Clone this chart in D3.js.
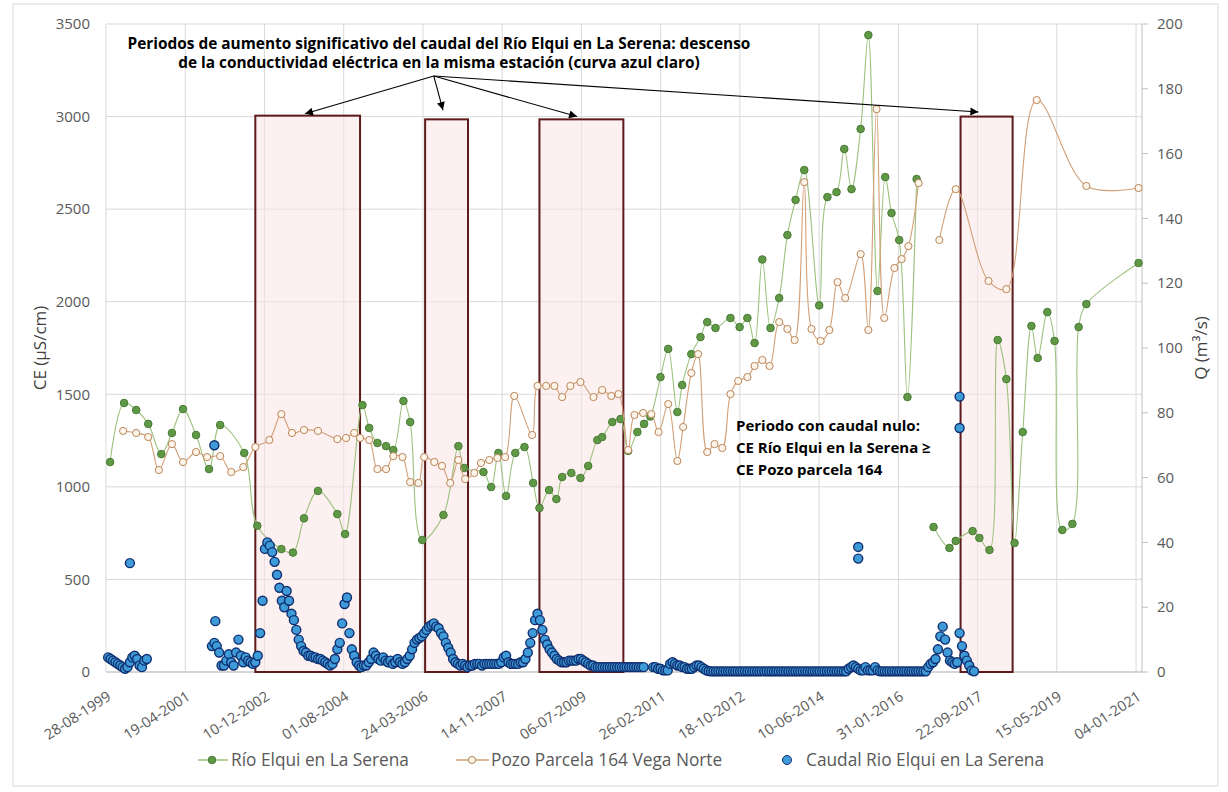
<!DOCTYPE html>
<html>
<head>
<meta charset="utf-8">
<script src="https://cdn.jsdelivr.net/npm/d3@7"></script>
<style>
body { margin: 0; background: #fff; }
svg { font-family: "Open Sans", sans-serif; }
</style>
</head>
<body>
<svg id="chart" width="1228" height="792"></svg>
<script>
// x axis: Excel date axis, one tick every 600 days
const xTickStart = '1999-08-28'
const xTickCount = 14
const xTickStepDays = 600
const xEnd = '2021-02-18'

const ceTicks = [0, 500, 1000, 1500, 2000, 2500, 3000, 3500]
const qTicks = [0, 20, 40, 60, 80, 100, 120, 140, 160, 180, 200]

// Río Elqui en La Serena, CE (µS/cm), dates as decimal years
const rioYears = [1999.74, 2000.03, 2000.28, 2000.53, 2000.80, 2001.02, 2001.25, 2001.52, 2001.79, 2002.02,
    2002.52, 2002.79, 2003.29, 2003.53, 2003.76, 2004.05, 2004.45, 2004.61, 2004.97, 2005.11,
    2005.28, 2005.46, 2005.61, 2005.82, 2005.96, 2006.21, 2006.65, 2006.96, 2007.08, 2007.48,
    2007.64, 2007.79, 2007.95, 2008.14, 2008.33, 2008.51, 2008.64, 2008.84, 2008.99, 2009.11,
    2009.30, 2009.49, 2009.65, 2009.84, 2009.94, 2010.15, 2010.32, 2010.48, 2010.67, 2010.81,
    2010.94, 2011.15, 2011.31, 2011.50, 2011.60, 2011.79, 2011.98, 2012.12, 2012.29, 2012.60,
    2012.79, 2012.95, 2013.10, 2013.26, 2013.43, 2013.61, 2013.78, 2013.95, 2014.13, 2014.44,
    2014.61, 2014.80, 2014.96, 2015.11, 2015.30, 2015.46, 2015.65, 2015.81, 2015.94, 2016.10,
    2016.27, 2016.46, 2016.64, 2016.81, 2017.14, 2017.27, 2017.62, 2017.76, 2017.97, 2018.14,
    2018.32, 2018.49, 2018.66, 2018.84, 2018.97, 2019.17, 2019.32, 2019.48, 2019.69, 2019.82,
    2019.98, 2021.06]
const rioCE = [1134, 1453, 1415, 1340, 1177, 1291, 1420, 1280, 1096, 1334,
    1183, 790, 664, 645, 830, 978, 853, 745, 1442, 1318,
    1237, 1220, 1199, 1464, 1350, 713, 848, 1220, 1102, 1080,
    999, 1183, 951, 1183, 1215, 1021, 886, 983, 934, 1053,
    1075, 1048, 1113, 1253, 1269, 1350, 1366, 1194, 1296, 1340,
    1380, 1593, 1745, 1404, 1550, 1717, 1809, 1890, 1858, 1912,
    1863, 1912, 1777, 2228, 1858, 2020, 2360, 2550, 2711, 1980,
    2565, 2592, 2825, 2608, 2933, 3440, 2058, 2673, 2479, 2333,
    1485, 2663, null, 783, 670, 708, 761, 724, 659, 1793,
    1582, 697, 1296, 1869, 1696, 1944, 1788, 767, 800, 1863,
    1987, 2209]

// Pozo Parcela 164 Vega Norte, CE (µS/cm)
const pozoYears = [2000.01, 2000.28, 2000.53, 2000.75, 2001.02, 2001.25, 2001.52, 2001.75, 2002.02, 2002.25,
    2002.50, 2002.75, 2003.04, 2003.29, 2003.51, 2003.76, 2004.05, 2004.45, 2004.63, 2004.80,
    2004.92, 2005.11, 2005.28, 2005.46, 2005.61, 2005.80, 2005.96, 2006.13, 2006.25, 2006.46,
    2006.62, 2006.79, 2006.96, 2007.10, 2007.29, 2007.43, 2007.60, 2007.77, 2007.93, 2008.12,
    2008.49, 2008.60, 2008.78, 2008.95, 2009.11, 2009.28, 2009.49, 2009.76, 2009.94, 2010.13,
    2010.28, 2010.48, 2010.61, 2010.79, 2010.96, 2011.11, 2011.31, 2011.50, 2011.62, 2011.79,
    2011.93, 2012.12, 2012.27, 2012.43, 2012.60, 2012.76, 2012.95, 2013.10, 2013.26, 2013.41,
    2013.61, 2013.78, 2013.93, 2014.13, 2014.28, 2014.47, 2014.65, 2014.82, 2014.98, 2015.30,
    2015.46, 2015.63, 2015.79, 2016.00, 2016.15, 2016.29, 2016.50, 2016.70, 2016.93, 2017.27,
    2017.95, 2018.32, 2018.95, 2019.98, 2021.06]
const pozoCE = [1302, 1291, 1269, 1091, 1231, 1134, 1188, 1161, 1166, 1080,
    1107, 1215, 1253, 1393, 1291, 1307, 1302, 1258, 1264, 1291,
    1264, 1253, 1096, 1096, 1166, 1161, 1026, 1021, 1161, 1134,
    1113, 1021, 1145, 1042, 1075, 1129, 1145, 1156, 1161, 1491,
    1280, 1545, 1545, 1545, 1485, 1545, 1566, 1485, 1523, 1491,
    1501, 1199, 1388, 1399, 1393, 1296, 1447, 1140, 1323, 1615,
    1717, 1188, 1231, 1210, 1501, 1572, 1593, 1653, 1685, 1653,
    1890, 1853, 1793, 2646, 1853, 1788, 1847, 2106, 2020, 2257,
    1847, 3040, 1912, 2182, 2230, 2300, 2641, null, 2333, 2608,
    2112, 2068, 3089, 2625, 2614]

// Caudal Río Elqui en La Serena, Q (m3/s), one reading every 0.05 year from 1999.70
const caudalStart = 1999.70
const caudalStep = 0.05
const caudalQ = [
    4.5, 4, 3.5, 3, 2.5, 2,
    1.5, 1, 1.5, 3, 4.5, 5, 4, 2, 1.5, 3.5, 4, null, null, null, null, null, null, null, null, null,
    null, null, null, null, null, null, null, null, null, null, null, null, null, null, null, null, null, 8, 9, 8,
    6, 2, 2, 3.5, 5.5, 3, 2, 6, 10, 5, 3, 4.5, 3.5, 3, 2.5, 3, 5, 12, 22, 38,
    40, 39, 37, 34, 30, 26, 22, 20, 25, 22, 18, 16, 13, 10, 8, 6.5, 6, 5, 5, 4.5,
    4.5, 4, 4, 3.5, 3, 2.5, 2, 2.5, 4, 7, 9, 15, 21, 23, 12, 7, 5, 3, 2, 1.5,
    2, 2, 3, 4, 6, 5, 4, 3.5, 4.5, 3.5, 3, 3.5, 2.5, 3, 4, 3, 2.5, 3, 4, 5,
    7, 9, 10, 10.5, 11, 12, 13, 14, 14.5, 15, 14, 13.5, 12, 11, 9, 7.5, 6, 4, 3, 2.5,
    2, 2.5, 2, 1.5, 2, 2, 2.5, 2.5, 2.5, 2, 2.5, 2.5, 2.5, 2.5, 2.5, 2.5, 2.5, 3, 4.5, 5,
    3, 2.5, 2.5, 2.5, 2.5, 3, 3, 4, 6, 9, 12, 16, 18, 16, 13, 10, 8.5, 7, 6, 5,
    4, 3.5, 3, 3, 3, 3.5, 3.5, 3.5, 3.5, 4, 4, 3.5, 3, 2.5, 2, 2, 1.5, 1.5, 1.5, 1.5,
    1.5, 1.5, 1.5, 1.5, 1.5, 1.5, 1.5, 1.5, 1.5, 1.5, 1.5, 1.5, 1.5, 1.5, 1.5, 1.5, 1.5, null, null, null,
    1.5, 1.5, 1, 1, 0.5, 0.5, 0.5, 2.5, 3, 2.5, 2, 2, 1.5, 1.5, 1, 1, 1, 1.5, 2, 2,
    1.5, 1, 0.5, 0.3, 0.2, 0.2, 0.2, 0.2, 0.2, 0.2, 0.2, 0.2, 0.2, 0.2, 0.2, 0.2, 0.2, 0.2, 0.2, 0.2,
    0.2, 0.2, 0.2, 0.2, 0.2, 0.2, 0.2, 0.2, 0.2, 0.2, 0.2, 0.2, 0.2, 0.2, 0.2, 0.2, 0.2, 0.2, 0.2, 0.2,
    0.2, 0.2, 0.2, 0.2, 0.2, 0.2, 0.2, 0.2, 0.2, 0.2, 0.2, 0.2, 0.2, 0.2, 0.2, 0.2, 0.2, 0.2, 0.2, 0.2,
    0.2, 1, 1.5, 2, 1.5, 1, 0.5, 0.5, 1.5, 0.5, 0.5, 0.5, 1.5, 0.5, 0.2, 0.2, 0.2, 0.2, 0.2, 0.2,
    0.2, 0.2, 0.2, 0.2, 0.2, 0.2, 0.2, 0.2, 0.2, 0.2, 0.2, 0.2, 0.2, 0.2, 1.5, 2.5, 3, 4, 7, 11,
    14, 10, 6, 3.5, 3, 2.5, 3, 12, 8, 5, 3.5, 2, 0.5, 0.2]
// isolated readings
const caudalExtraYears = [2000.15, 2001.90, 2001.92, 2015.25, 2015.25, 2017.35, 2017.35]
const caudalExtraQ = [33.6, 70, 15.7, 38.6, 35, 85, 75.3]

// periods highlighted with boxes
const periodStart = [2002.75, 2006.27, 2008.64, 2017.37]
const periodEnd = [2004.92, 2007.16, 2010.38, 2018.45]
const periodTop = [3005, 2985, 2985, 3000]
const arrowFrom = [2006.45, 3219]
const arrowToYears = [2003.78, 2006.64, 2009.42, 2017.74]
const arrowToCE = [3015, 3035, 3000, 3025]

const noteLines = ['Periodos de aumento significativo del caudal del Río Elqui en La Serena: descenso',
    'de la conductividad eléctrica en la misma estación (curva azul claro)']
const nullNote = ['Periodo con caudal nulo:', 'CE Río Elqui en la Serena ≥', 'CE Pozo parcela 164']
const legendLabels = ['Río Elqui en La Serena', 'Pozo Parcela 164 Vega Norte', 'Caudal Rio Elqui en La Serena']

const GREEN_LINE = '#9cc27e'
const GREEN_FILL = '#5f9946'
const GREEN_EDGE = '#4a7b36'
const BROWN_LINE = '#d29f76'
const BROWN_FILL = '#fdf4ea'
const BROWN_EDGE = '#b98559'
const BLUE_FILL = '#3f9ad8'
const BLUE_EDGE = '#0f2f70'
const GRID = '#d9d9d9'
const LABEL = '#595959'

const toDate = y => {
    const yr = Math.floor(y)
    const a = Date.UTC(yr, 0, 1)
    const b = Date.UTC(yr + 1, 0, 1)
    return new Date(a + (y - yr) * (b - a))
}

const plotLeft = 106, plotRight = 1142, plotTop = 24, plotBottom = 672
const svg = d3.select('#chart')

const x = d3.scaleUtc()
    .domain([new Date(xTickStart), new Date(xEnd)])
    .range([plotLeft, plotRight])
const yCE = d3.scaleLinear().domain([0, 3500]).range([plotBottom, plotTop])
const yQ = d3.scaleLinear().domain([0, 200]).range([plotBottom, plotTop])

const xTicks = d3.range(xTickCount).map(i => d3.utcDay.offset(new Date(xTickStart), i * xTickStepDays))
const fmt = d3.utcFormat('%d-%m-%Y')

// outer frame
svg.append('rect')
    .attr('x', 13).attr('y', 4)
    .attr('width', 1205).attr('height', 782)
    .attr('fill', 'none')
    .attr('stroke', GRID)

// grid
svg.append('g')
    .selectAll('line')
    .data(ceTicks)
    .enter()
    .append('line')
    .attr('x1', plotLeft).attr('x2', plotRight)
    .attr('y1', d => yCE(d)).attr('y2', d => yCE(d))
    .attr('stroke', GRID)
svg.append('g')
    .selectAll('line')
    .data(xTicks)
    .enter()
    .append('line')
    .attr('x1', d => x(d)).attr('x2', d => x(d))
    .attr('y1', plotTop).attr('y2', plotBottom)
    .attr('stroke', GRID)

// axes lines
svg.append('line')
    .attr('x1', plotLeft).attr('x2', plotRight)
    .attr('y1', plotBottom).attr('y2', plotBottom)
    .attr('stroke', '#bfbfbf')
svg.append('line')
    .attr('x1', plotRight).attr('x2', plotRight)
    .attr('y1', plotTop).attr('y2', plotBottom)
    .attr('stroke', '#bfbfbf')

// left ticks
svg.append('g')
    .selectAll('text')
    .data(ceTicks)
    .enter()
    .append('text')
    .attr('x', 90)
    .attr('y', d => yCE(d))
    .attr('dy', '0.35em')
    .attr('text-anchor', 'end')
    .attr('font-size', 15)
    .attr('fill', LABEL)
    .text(d => d)

// right ticks
const rt = svg.append('g')
rt.selectAll('line')
    .data(qTicks)
    .enter()
    .append('line')
    .attr('x1', plotRight).attr('x2', plotRight + 6)
    .attr('y1', d => yQ(d)).attr('y2', d => yQ(d))
    .attr('stroke', '#bfbfbf')
rt.selectAll('text')
    .data(qTicks)
    .enter()
    .append('text')
    .attr('x', plotRight + 15)
    .attr('y', d => yQ(d))
    .attr('dy', '0.35em')
    .attr('font-size', 15)
    .attr('fill', LABEL)
    .text(d => d)

// x tick labels
svg.append('g')
    .selectAll('text')
    .data(xTicks)
    .enter()
    .append('text')
    .attr('transform', d => `translate(${x(d) + 6},${plotBottom + 27}) rotate(-33)`)
    .attr('text-anchor', 'end')
    .attr('font-size', 14.5)
    .attr('fill', LABEL)
    .text(d => fmt(d))

// axis titles
svg.append('text')
    .attr('transform', `translate(46,${(plotTop + plotBottom) / 2}) rotate(-90)`)
    .attr('text-anchor', 'middle')
    .attr('font-size', 17)
    .attr('fill', '#404040')
    .text('CE (µS/cm)')
svg.append('text')
    .attr('transform', `translate(1207,${(plotTop + plotBottom) / 2}) rotate(-90)`)
    .attr('text-anchor', 'middle')
    .attr('font-size', 17)
    .attr('fill', '#404040')
    .text('Q (m³/s)')

// highlighted periods
svg.append('g')
    .selectAll('rect')
    .data(periodStart)
    .enter()
    .append('rect')
    .attr('x', d => x(toDate(d)))
    .attr('y', (d, i) => yCE(periodTop[i]))
    .attr('width', (d, i) => x(toDate(periodEnd[i])) - x(toDate(d)))
    .attr('height', (d, i) => yCE(0) - yCE(periodTop[i]))
    .attr('fill', '#fbe3e3')
    .attr('fill-opacity', 0.55)
    .attr('stroke', '#5c1a1a')
    .attr('stroke-width', 2)

// series
const rio = rioYears.map((t, i) => ({ t: toDate(t), v: rioCE[i] }))
const pozo = pozoYears.map((t, i) => ({ t: toDate(t), v: pozoCE[i] }))
const caudal = caudalQ
    .map((q, i) => ({ t: toDate(caudalStart + i * caudalStep), q }))
    .filter(d => d.q != null)
    .concat(caudalExtraYears.map((t, i) => ({ t: toDate(t), q: caudalExtraQ[i] })))

const line = d3.line()
    .defined(d => d.v != null)
    .x(d => x(d.t))
    .y(d => yCE(d.v))
    .curve(d3.curveCatmullRom.alpha(0.5))

svg.append('path')
    .datum(rio)
    .attr('d', line)
    .attr('fill', 'none')
    .attr('stroke', GREEN_LINE)
    .attr('stroke-width', 1.1)
svg.append('g')
    .selectAll('circle')
    .data(rio.filter(d => d.v != null))
    .enter()
    .append('circle')
    .attr('cx', d => x(d.t))
    .attr('cy', d => yCE(d.v))
    .attr('r', 3.8)
    .attr('fill', GREEN_FILL)
    .attr('stroke', GREEN_EDGE)

svg.append('path')
    .datum(pozo)
    .attr('d', line)
    .attr('fill', 'none')
    .attr('stroke', BROWN_LINE)
    .attr('stroke-width', 1.1)
svg.append('g')
    .selectAll('circle')
    .data(pozo.filter(d => d.v != null))
    .enter()
    .append('circle')
    .attr('cx', d => x(d.t))
    .attr('cy', d => yCE(d.v))
    .attr('r', 3.6)
    .attr('fill', BROWN_FILL)
    .attr('stroke', BROWN_EDGE)

svg.append('g')
    .selectAll('circle')
    .data(caudal)
    .enter()
    .append('circle')
    .attr('cx', d => x(d.t))
    .attr('cy', d => yQ(d.q))
    .attr('r', 4.5)
    .attr('fill', BLUE_FILL)
    .attr('stroke', BLUE_EDGE)
    .attr('stroke-width', 1.4)

// arrows
svg.append('defs')
    .append('marker')
    .attr('id', 'head')
    .attr('viewBox', '0 0 10 10')
    .attr('refX', 10).attr('refY', 5)
    .attr('markerUnits', 'userSpaceOnUse')
    .attr('markerWidth', 11).attr('markerHeight', 8)
    .attr('orient', 'auto')
    .append('path')
    .attr('d', 'M0,0L10,5L0,10z')
    .attr('fill', '#000')
svg.append('g')
    .selectAll('line')
    .data(arrowToYears)
    .enter()
    .append('line')
    .attr('x1', x(toDate(arrowFrom[0])))
    .attr('y1', yCE(arrowFrom[1]))
    .attr('x2', d => x(toDate(d)))
    .attr('y2', (d, i) => yCE(arrowToCE[i]))
    .attr('stroke', '#000')
    .attr('stroke-width', 1.1)
    .attr('marker-end', 'url(#head)')

// notes
svg.append('g')
    .selectAll('text')
    .data(noteLines)
    .enter()
    .append('text')
    .attr('x', 439)
    .attr('y', (d, i) => 49 + i * 19)
    .attr('text-anchor', 'middle')
    .attr('font-size', 15.4)
    .attr('font-weight', 'bold')
    .attr('fill', '#000')
    .text(d => d)
svg.append('g')
    .selectAll('text')
    .data(nullNote)
    .enter()
    .append('text')
    .attr('x', 736)
    .attr('y', (d, i) => 431 + i * 22)
    .attr('font-size', 15)
    .attr('font-weight', 'bold')
    .attr('fill', '#000')
    .text(d => d)

// legend
const lg = svg.append('g').attr('transform', 'translate(0,760)')
lg.append('line').attr('x1', 198).attr('x2', 228).attr('stroke', GREEN_LINE).attr('stroke-width', 1.5)
lg.append('circle').attr('cx', 212).attr('r', 3.8).attr('fill', GREEN_FILL).attr('stroke', GREEN_EDGE)
lg.append('line').attr('x1', 456).attr('x2', 489).attr('stroke', BROWN_LINE).attr('stroke-width', 1.5)
lg.append('circle').attr('cx', 472).attr('r', 3.6).attr('fill', BROWN_FILL).attr('stroke', BROWN_EDGE)
lg.append('circle').attr('cx', 787).attr('r', 4.5).attr('fill', BLUE_FILL).attr('stroke', BLUE_EDGE)
lg.selectAll('text')
    .data(legendLabels)
    .enter()
    .append('text')
    .attr('x', (d, i) => [231, 491, 806][i])
    .attr('dy', '0.35em')
    .attr('font-size', 17.3)
    .attr('fill', LABEL)
    .text(d => d)
</script>
</body>
</html>
